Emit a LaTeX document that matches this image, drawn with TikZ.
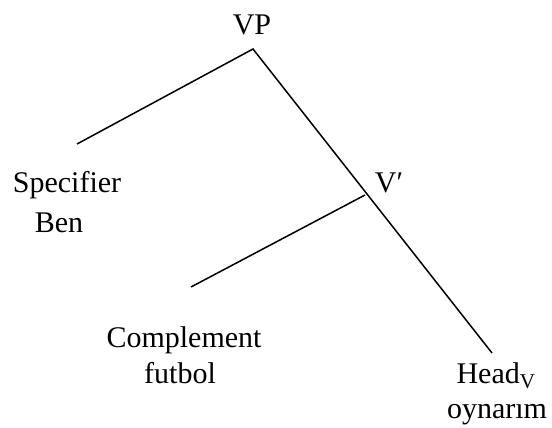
\documentclass[tikz,border=0pt]{standalone}
\usepackage{fontspec}
\setmainfont{Liberation Serif}
\begin{document}
\begin{tikzpicture}[x=1pt,y=-1pt,line width=1.5pt,font=\fontsize{30}{34}\selectfont,
  lbl/.style={anchor=base,inner sep=0pt}]
  \useasboundingbox (0,0) rectangle (552,428);
  % branch points and free ends
  \coordinate (vp) at (253,49);
  \coordinate (vbar) at (365,195);
  \coordinate (spec) at (77,144);
  \coordinate (comp) at (191,287);
  \coordinate (head) at (492,353);
  \draw (spec)--(vp)--(head);
  \draw (vbar)--(comp);
  % labels
  \node[lbl] (vplbl) at (252,35) {VP};
  \node[lbl] (vbarlbl) at (389,192) {V′};
  \node[lbl] (speclbl) at (67,192) {Specifier};
  \node[lbl] (benlbl) at (59,232) {Ben};
  \node[lbl] (complbl) at (184,347) {Complement};
  \node[lbl] (futlbl) at (180,383) {futbol};
  \node[lbl] (headlbl) at (496,383) {Head\textsubscript{V}};
  \node[lbl] (oynlbl) at (497,418) {oynarım};
\end{tikzpicture}
\end{document}
